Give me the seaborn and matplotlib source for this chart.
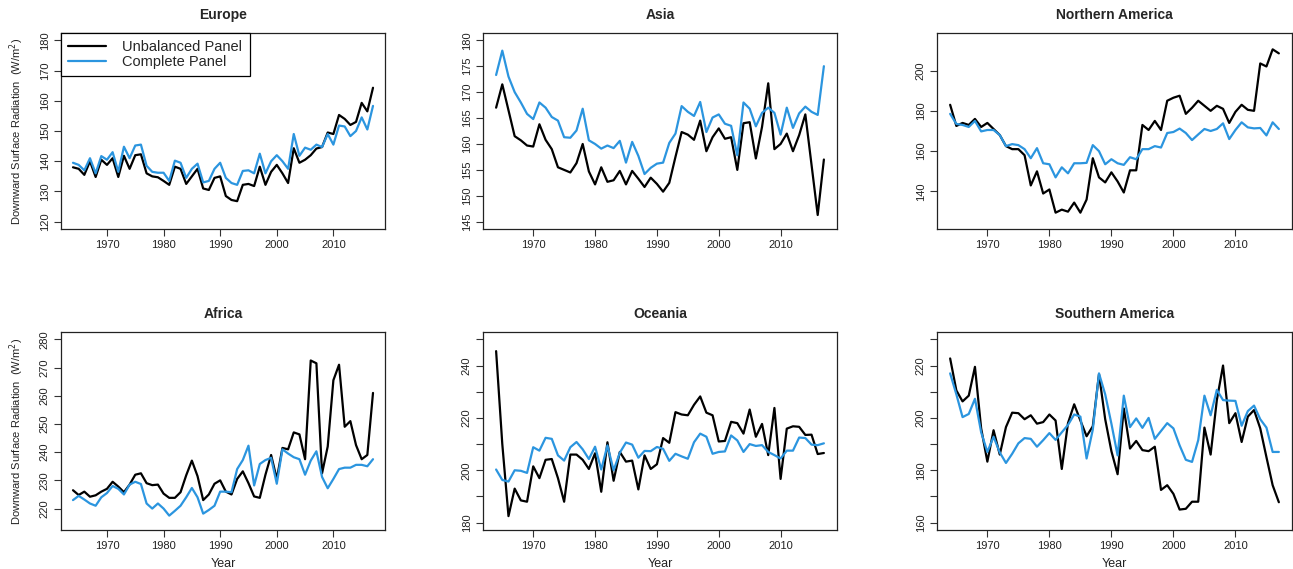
import numpy as np
import pandas as pd
import matplotlib
matplotlib.use("Agg")
import matplotlib.pyplot as plt
import seaborn as sns

years = list(range(1964, 2018))

europe_unbal = [138, 137.5, 135.5, 140, 134.8, 140.5, 138.8, 141, 134.8, 141.8,
                137.5, 142, 142.3, 136, 135, 134.7, 133.5, 132.2, 138.2, 137.5,
                132.5, 135, 137.5, 131, 130.5, 134.5, 135, 128.5, 127.2, 126.8,
                132.2, 132.5, 131.8, 138.2, 132.2, 136.5, 138.8, 136, 132.8, 144.3,
                139.5, 140.5, 142, 144.2, 144.7, 149.5, 149, 155.3, 154, 152,
                153, 159.3, 156.5, 164.3]
europe_comp = [139.5, 138.8, 137, 141, 136, 141.7, 140.5, 143, 136.5, 144.8,
               141, 145.2, 145.5, 138.5, 136.5, 136.2, 136.2, 133.5, 140.2, 139.5,
               134.5, 137.5, 139.2, 133, 133.5, 137.5, 139.5, 134.5, 132.8, 132.2,
               136.8, 137, 136, 142.5, 136, 140, 142, 140, 137.5, 149,
               141.8, 144.5, 143.8, 145.5, 144.7, 149, 145.5, 151.8, 151.5, 148.3,
               150, 154.5, 150.5, 158.3]

asia_unbal = [167, 171.5, 166.5, 161.5, 160.7, 159.7, 159.5, 163.8, 160.8, 159,
              155.5, 155, 154.5, 156.3, 160, 154.7, 152.2, 155.5, 152.7, 153,
              154.8, 152.2, 154.8, 153.3, 151.7, 153.5, 152.3, 150.8, 152.5, 157.5,
              162.3, 161.8, 160.8, 164.5, 158.6, 161.3, 163, 161, 161.3, 155,
              164, 164.2, 157.2, 163.3, 171.7, 159, 160, 162, 158.6, 161.7,
              165.7, 156, 146.3, 157]
asia_comp = [173.3, 178, 173, 170, 168, 165.8, 164.8, 168, 167, 165.2,
             164.5, 161.3, 161.2, 162.6, 166.8, 160.7, 160, 159.1, 159.7, 159.2,
             160.6, 156.4, 160.4, 157.7, 154.2, 155.4, 156.2, 156.4, 160.2, 162,
             167.3, 166.2, 165.4, 168.1, 162.3, 165.1, 165.7, 163.9, 163.5, 157.8,
             168, 166.8, 163.4, 166, 167, 166, 161.8, 167, 163.1, 165.9,
             167.2, 166.2, 165.6, 175]

namerica_unbal = [183, 172.5, 174, 173, 176, 172, 174, 171, 168, 162.5,
                  161, 161, 158, 143, 150, 139, 141, 129.5, 131, 130,
                  134.5, 129.5, 136, 156.5, 147, 144.5, 149.5, 145, 139.5, 150.5,
                  150.5, 173, 170.5, 175, 170.5, 185, 186.5, 187.5, 178.5, 181.5,
                  185, 182.5, 180, 182.5, 181, 174, 179.5, 183, 180.5, 180,
                  203.5, 202, 210.5, 208.5]
namerica_comp = [178.5, 173.5, 173, 172, 175, 169.8, 170.5, 170.5, 168, 162.5,
                 163.5, 163, 161, 156.5, 161.5, 154, 153.5, 147, 152, 149,
                 154, 154, 154.2, 163, 160, 153.5, 156, 154, 153.2, 157,
                 156, 161, 161, 162.5, 161.8, 169, 169.5, 171.2, 169, 165.5,
                 168.3, 171, 170, 171, 173.8, 166, 170.5, 174.3, 171.8, 171.3,
                 171.5, 167.8, 174.3, 171]

africa_unbal = [226.5, 224.8, 226, 224.2, 224.7, 226, 227, 229.5, 227.8, 225.8,
                228.5, 232, 232.5, 229, 228.3, 228.5, 225.3, 223.8, 223.8, 225.8,
                231.8, 237, 231.5, 223, 225, 228.8, 230, 226, 225, 230.5,
                233.2, 229, 224.3, 223.8, 232, 239, 230.5, 241.5, 241, 247,
                246.3, 237.5, 272.5, 271.5, 232.5, 242, 265.5, 271, 249, 251,
                242.5, 237.5, 239, 261]
africa_comp = [223, 224.5, 223.2, 221.8, 221, 224, 225.5, 228, 227, 225,
               228.5, 229.5, 228.7, 221.8, 220, 221.8, 220, 217.5, 219.2, 221,
               224, 227.3, 224, 218.2, 219.5, 221, 226, 226, 225.8, 234,
               237.2, 242.3, 228.2, 235.8, 237.2, 238, 228.8, 241, 239.5, 238.2,
               237.5, 232, 237, 240.3, 231.2, 227.2, 230.5, 234, 234.5, 234.5,
               235.5, 235.5, 235, 237.5]

oceania_unbal = [245.5, 210, 182.5, 193, 188.5, 188, 201.5, 197, 204, 204.3,
                 197, 188, 206, 206, 204, 200.5, 206.5, 191.8, 210.7, 196,
                 207, 203.3, 203.7, 192.7, 205.7, 200.5, 202.3, 212.3, 210.5, 222.2,
                 221.3, 221, 225, 228.2, 222, 221, 211, 211.2, 218.5, 218,
                 214, 223.2, 212.8, 217.7, 205.8, 223.8, 196.7, 215.9, 216.8, 216.6,
                 213.5, 213.6, 206.2, 206.6]
oceania_comp = [200.3, 196.3, 195.7, 200, 199.8, 199, 208.8, 207.5, 212.4, 212,
                205.7, 203.7, 208.8, 210.8, 208, 204.3, 209, 200.3, 209.5, 200,
                206.7, 210.6, 209.8, 204.8, 207.4, 207.3, 208.9, 208.2, 203.6, 206.3,
                205.3, 204.4, 210.7, 214, 212.8, 206.3, 207, 207.2, 213.3, 211.4,
                207, 210, 209.3, 209.6, 207, 205.8, 204.5, 207.5, 207.5, 212.5,
                212.3, 209.8, 209.6, 210.3]

samerica_unbal = [222.7, 210.5, 206.3, 208.5, 219.5, 196, 183.3, 195.3, 186, 196.5,
                  202, 201.8, 199.5, 201, 197.8, 198.4, 201.3, 199, 180.5, 198,
                  205.2, 199, 193, 196.8, 216.7, 199.5, 187.3, 178.5, 203.6, 188.3,
                  191.2, 187.7, 187.3, 189, 172.5, 174.3, 171, 165, 165.3, 168,
                  168, 196.3, 186, 206.8, 220, 198, 201.8, 190.8, 200.5, 203,
                  196, 185, 174.3, 167.8]
samerica_comp = [217, 209, 200.3, 201.5, 207.3, 194.5, 187, 192.8, 186.8, 182.8,
                 186.3, 190.3, 192.3, 192, 189, 191.5, 194.2, 191.6, 194.5, 197.3,
                 201.3, 200.5, 184.5, 195.5, 217, 209, 197.8, 185.7, 208.5, 196.5,
                 199.8, 196.2, 200, 192, 195, 198, 196, 189.5, 184, 183.2,
                 191.5, 208.5, 201, 210.7, 206.8, 206.6, 206.5, 197, 202.6, 204.7,
                 199.5, 196.3, 187, 187]

regions = ["Europe", "Asia", "Northern America", "Africa", "Oceania", "Southern America"]
series = {
    "Europe": (europe_unbal, europe_comp),
    "Asia": (asia_unbal, asia_comp),
    "Northern America": (namerica_unbal, namerica_comp),
    "Africa": (africa_unbal, africa_comp),
    "Oceania": (oceania_unbal, oceania_comp),
    "Southern America": (samerica_unbal, samerica_comp),
}
panel_names = ["Unbalanced Panel", "Complete Panel"]
ylims = {"Europe": (120, 180), "Asia": (145, 180), "Northern America": (125, 215),
         "Africa": (215, 280), "Oceania": (180, 250), "Southern America": (160, 230)}
yticks = {"Europe": (120, 180, 10), "Asia": (145, 180, 5), "Northern America": (140, 200, 20),
          "Africa": (220, 280, 10), "Oceania": (180, 250, 10), "Southern America": (160, 230, 10)}
label_every = {"Europe": 1, "Asia": 1, "Northern America": 1, "Africa": 1,
               "Oceania": 2, "Southern America": 2}

sns.set_style("white")
plt.rcParams["font.family"] = ["Liberation Sans", "DejaVu Sans"]

W, H = 1293, 569
fig = plt.figure(figsize=(W / 100, H / 100), dpi=100)
boxes = {"Europe": (61, 33, 324, 196), "Asia": (483, 33, 354, 196),
         "Northern America": (937, 33, 355, 196), "Africa": (61, 332, 324, 198),
         "Oceania": (483, 332, 354, 198), "Southern America": (937, 332, 355, 198)}
palette = {"Unbalanced Panel": "#000000", "Complete Panel": "#2B95DF"}

for i, reg in enumerate(regions):
    x0, y0, w, h = boxes[reg]
    ax = fig.add_axes([x0 / W, 1 - (y0 + h) / H, w / W, h / H])
    unbal, comp = series[reg]
    df = pd.DataFrame({
        "Year": years * 2,
        "Radiation": list(unbal) + list(comp),
        "Panel": [panel_names[0]] * len(years) + [panel_names[1]] * len(years),
    })
    sns.lineplot(data=df, x="Year", y="Radiation", hue="Panel", hue_order=panel_names,
                 palette=palette, linewidth=1.6, ax=ax, legend=(reg == "Europe"))
    pad_x = (2017 - 1964) * 0.04
    ax.set_xlim(1964 - pad_x, 2017 + pad_x)
    lo, hi = ylims[reg]
    pad_y = (hi - lo) * 0.04
    ax.set_ylim(lo - pad_y, hi + pad_y)
    t0, t1, st = yticks[reg]
    tv = np.arange(t0, t1 + 0.1, st)
    ax.set_yticks(tv)
    ax.set_yticklabels([f"{int(v)}" if k % label_every[reg] == 0 else "" for k, v in enumerate(tv)],
                       rotation=90, va="center", fontsize=8, color="#222222")
    ax.set_xticks([1970, 1980, 1990, 2000, 2010])
    ax.set_xticklabels(["1970", "1980", "1990", "2000", "2010"], fontsize=8, color="#222222")
    ax.tick_params(axis="both", direction="out", length=5, width=0.8, color="#333333",
                   bottom=True, left=True, pad=3)
    for sp in ax.spines.values():
        sp.set_visible(True)
        sp.set_color("#222222")
        sp.set_linewidth(0.9)
    ax.set_title(reg, fontweight="bold", fontsize=10, pad=10)
    if i >= 3:
        ax.set_xlabel("Year", fontsize=9, labelpad=5, color="#222222")
    else:
        ax.set_xlabel("")
    if i % 3 == 0:
        ax.set_ylabel(r"Downward Surface Radiation  (W/m$^2$)", fontsize=8,
                      labelpad=10, color="#222222")
    else:
        ax.set_ylabel("")
    if reg == "Europe":
        leg = ax.legend(loc="upper left", fontsize=10.5, frameon=True, fancybox=False,
                        borderaxespad=0, handlelength=2.6, handletextpad=1.1,
                        borderpad=0.5, labelspacing=0.05, edgecolor="black")
        leg.get_frame().set_linewidth(0.9)
        leg.get_frame().set_alpha(1)
        leg.set_title(None)

fig.savefig("out.png", dpi=100)
